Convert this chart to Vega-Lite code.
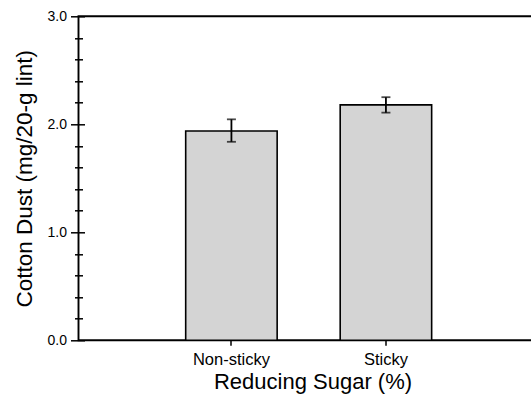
{
  "$schema": "https://vega.github.io/schema/vega-lite/v6.json",
  "autosize": {"type": "none"},
  "width": 452.5,
  "height": 324,
  "padding": {"left": 78.5, "top": 16.3, "right": 0, "bottom": 55.7},
  "background": "white",
  "config": {
    "view": {"stroke": "black", "strokeWidth": 1.9, "strokeDash": [452.5, 324, 790, 10]},
    "font": "Liberation Sans",
    "axis": {"labelFont": "Liberation Sans", "titleFont": "Liberation Sans", "labelColor": "black", "titleColor": "black", "tickColor": "black", "domainColor": "black", "grid": false, "titleFontWeight": "normal"}
  },
  "data": {
    "values": [
      {"group": "Non-sticky", "mean": 1.938, "low": 1.838, "high": 2.046},
      {"group": "Sticky", "mean": 2.18, "low": 2.108, "high": 2.251}
    ]
  },
  "encoding": {
    "x": {
      "field": "group",
      "type": "nominal",
      "sort": null,
      "scale": {"paddingInner": 0.408, "paddingOuter": 0.6684, "align": 0.519},
      "axis": {
        "orient": "bottom",
        "title": "Reducing Sugar (%)",
        "titleFontSize": 22,
        "titleX": 234,
        "titleY": 48.3,
        "titleAlign": "center",
        "titleBaseline": "alphabetic",
        "labelFontSize": 16.5,
        "labelAngle": 0,
        "labelPadding": 6,
        "tickSize": 5,
        "tickWidth": 1.5,
        "domain": false
      }
    }
  },
  "layer": [
    {
      "mark": {"type": "bar", "fill": "#d4d4d4", "stroke": "black", "strokeWidth": 1.6},
      "encoding": {
        "y": {
          "field": "mean",
          "type": "quantitative",
          "scale": {"domain": [0, 3], "nice": false},
          "axis": {
            "orient": "left",
            "title": "Cotton Dust (mg/20-g lint)",
            "titleFontSize": 22.5,
            "titleX": -53,
            "titleY": 162,
            "titleAngle": -90,
            "titleAlign": "center",
            "titleBaseline": "alphabetic",
            "values": [0, 1, 2, 3],
            "format": ".1f",
            "labelFontSize": 14,
            "labelPadding": 4,
            "tickSize": 14,
            "tickWidth": 1.5,
            "offset": -6,
            "domain": false
          }
        }
      }
    },
    {
      "mark": {"type": "rule", "color": "black", "strokeWidth": 1.8},
      "encoding": {
        "y": {
          "field": "low",
          "type": "quantitative",
          "scale": {"domain": [0, 3], "nice": false},
          "axis": {
            "orient": "left",
            "title": null,
            "values": [0.2, 0.4, 0.6, 0.8, 1.2, 1.4, 1.6, 1.8, 2.2, 2.4, 2.6, 2.8],
            "labels": false,
            "tickSize": 8,
            "tickWidth": 1.5,
            "offset": -4,
            "domain": false
          }
        },
        "y2": {"field": "high"}
      }
    },
    {
      "mark": {"type": "tick", "color": "black", "size": 9, "thickness": 1.8},
      "encoding": {
        "y": {"field": "low", "type": "quantitative", "scale": {"domain": [0, 3], "nice": false}, "axis": null}
      }
    },
    {
      "mark": {"type": "tick", "color": "black", "size": 9, "thickness": 1.8},
      "encoding": {
        "y": {"field": "high", "type": "quantitative", "scale": {"domain": [0, 3], "nice": false}, "axis": null}
      }
    }
  ],
  "resolve": {"axis": {"y": "independent"}}
}
